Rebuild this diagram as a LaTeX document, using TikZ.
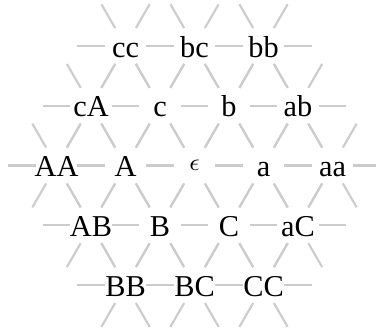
\documentclass[tikz,border=0pt]{standalone}
\usepackage{fontspec}
\setmainfont{Liberation Serif}
\usetikzlibrary{calc}

\begin{document}
\begin{tikzpicture}[x=0.8cm,y=0.8cm,
    word/.style={inner sep=0pt,text height=7.4pt,text depth=0pt},
    link/.style={draw=gray!40,line width=0.7pt}]
    \useasboundingbox (-2.819,-2.457) rectangle (2.630,2.399);
    % lattice points p<i><j>, axial q=i-3, r=j-3
    \foreach \i in {0,...,6}
      \foreach \j in {0,...,6}
        \coordinate (p\i\j) at ({\i-3+(\j-3)/2},{(\j-3)*sqrt(3)/2});
    % links from every word to its six neighbours
    \foreach \i/\j in {1/5,2/5,3/5,1/4,2/4,3/4,4/4,1/3,2/3,3/3,4/3,5/3,2/2,3/2,4/2,5/2,3/1,4/1,5/1}
      \foreach \di/\dj in {1/0,-1/0,0/1,0/-1,-1/1,1/-1}{
        \pgfmathtruncatemacro\ni{\i+\di}
        \pgfmathtruncatemacro\nj{\j+\dj}
        \draw[link] ($(p\i\j)!0.3!(p\ni\nj)$) -- ($(p\i\j)!0.7!(p\ni\nj)$);
      }
    % top rows
    \node[word] (cc) at (p15) {cc};
    \node[word] (bc) at (p25) {bc};
    \node[word] (bb) at (p35) {bb};
    \node[word] (cA) at (p14) {cA};
    \node[word] (c)  at (p24) {c};
    \node[word] (b)  at (p34) {b};
    \node[word] (ab) at (p44) {ab};
    % middle row
    \node[word] (AA) at (p13) {AA};
    \node[word] (A)  at (p23) {A};
    \node[inner sep=0pt] (eps) at (p33) {\footnotesize$\epsilon$};
    \node[word] (a)  at (p43) {a};
    \node[word] (aa) at (p53) {aa};
    % bottom rows
    \node[word] (AB) at (p22) {AB};
    \node[word] (B)  at (p32) {B};
    \node[word] (C)  at (p42) {C};
    \node[word] (aC) at (p52) {aC};
    \node[word] (BB) at (p31) {BB};
    \node[word] (BC) at (p41) {BC};
    \node[word] (CC) at (p51) {CC};
\end{tikzpicture}
\end{document}
